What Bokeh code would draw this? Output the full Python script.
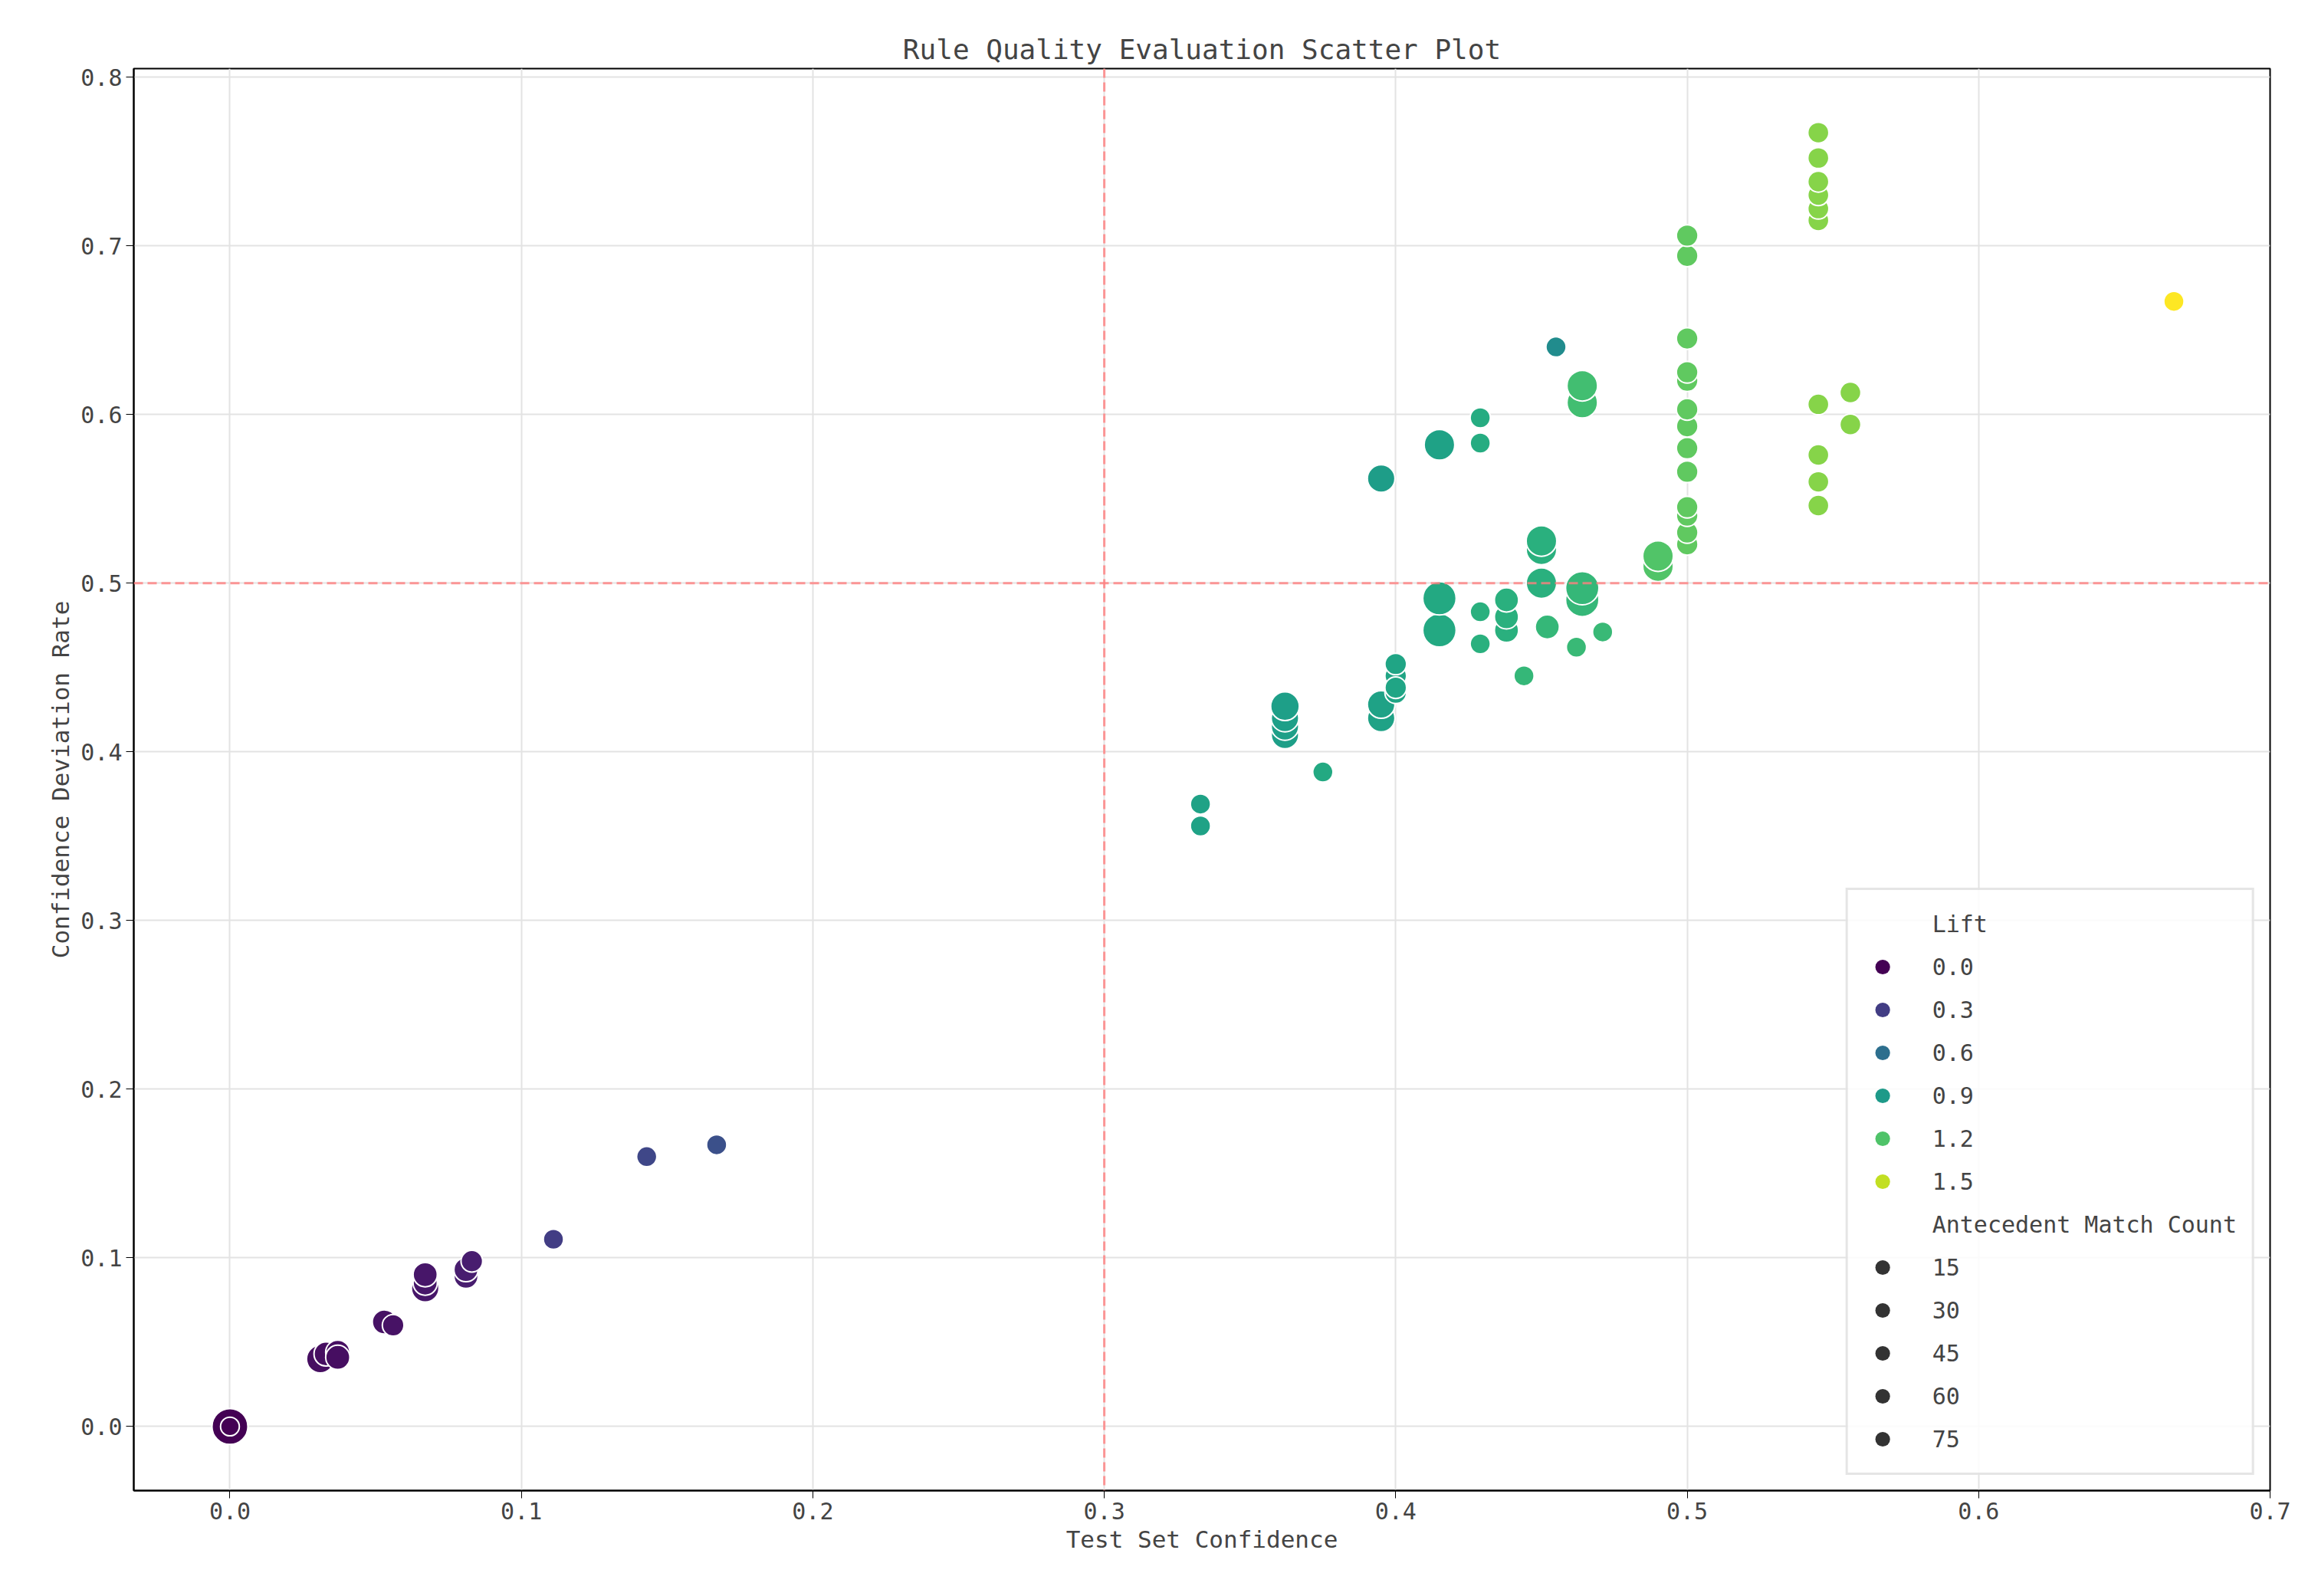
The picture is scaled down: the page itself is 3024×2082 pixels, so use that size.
import numpy as np
from bokeh.plotting import figure
from bokeh.models import ColumnDataSource, LinearColorMapper, Span, Legend, LegendItem, NumeralTickFormatter
from bokeh.palettes import Viridis256
from bokeh.embed import file_html
from bokeh.resources import INLINE

test_conf = [0,0,0.031,0.033,0.037,0.037,0.053,0.056,0.067,0.067,0.067,0.081,0.081,0.083,
             0.111,0.143,0.167,0.333,0.333,0.375,0.362,0.362,0.362,0.362,0.395,0.395,0.4,0.4,0.4,0.4,0.4,
             0.395,0.415,0.429,0.429,0.455,0.415,0.415,0.429,0.429,0.438,0.438,0.438,0.444,
             0.45,0.45,0.45,0.452,0.462,0.464,0.464,0.464,0.464,0.471,0.49,0.49,
             0.5,0.5,0.5,0.5,0.5,0.5,0.5,0.5,0.5,0.5,0.5,0.5,0.5,
             0.545,0.545,0.545,0.545,0.545,0.545,0.545,0.545,0.545,0.545,0.556,0.556,0.667]
dev_rate = [0,0,0.04,0.043,0.044,0.041,0.062,0.06,0.082,0.085,0.09,0.089,0.093,0.098,
            0.111,0.16,0.167,0.369,0.356,0.388,0.41,0.415,0.42,0.427,0.42,0.428,0.435,0.44,0.445,0.452,0.438,
            0.562,0.582,0.598,0.583,0.64,0.472,0.491,0.483,0.464,0.472,0.48,0.49,0.445,
            0.50,0.52,0.525,0.474,0.462,0.49,0.497,0.607,0.617,0.471,0.51,0.516,
            0.523,0.53,0.54,0.545,0.566,0.58,0.593,0.603,0.62,0.625,0.645,0.694,0.706,
            0.546,0.56,0.576,0.606,0.715,0.722,0.73,0.738,0.752,0.767,0.594,0.613,0.667]
lift = [0,0,0.06,0.06,0.06,0.06,0.08,0.08,0.1,0.1,0.1,0.13,0.13,0.13,
        0.3,0.35,0.4,0.95,0.95,1.0,0.93,0.93,0.93,0.93,0.95,0.95,0.97,0.97,0.97,0.97,0.97,
        0.92,0.95,1.02,1.02,0.8,1.0,1.0,1.05,1.05,1.05,1.05,1.05,1.1,
        1.05,1.05,1.05,1.1,1.12,1.1,1.1,1.15,1.15,1.12,1.2,1.2,
        1.25,1.25,1.25,1.25,1.25,1.25,1.25,1.25,1.25,1.25,1.25,1.25,1.25,
        1.35,1.35,1.35,1.35,1.35,1.35,1.35,1.35,1.35,1.35,1.35,1.35,1.65]
count = [90,10,45,30,30,30,30,20,45,30,30,30,30,20,
         15,15,15,15,15,15,45,45,45,50,45,45,20,20,20,20,20,
         45,60,15,15,15,75,75,15,15,30,30,30,15,
         60,60,60,30,15,75,75,60,60,15,60,60,
         20,20,20,20,20,20,20,20,20,20,20,20,20,
         18,18,18,18,18,18,18,18,18,18,18,18,15]
legend_lift = [0.0, 0.3, 0.6, 0.9, 1.2, 1.5]
legend_count = [15, 30, 45, 60, 75]

def diam(c):
    return np.sqrt(400 + 20 * np.asarray(c, dtype=float))

FONT = "DejaVu Sans Mono"
src = ColumnDataSource(dict(x=test_conf, y=dev_rate, lift=lift, s=diam(count)))
mapper = LinearColorMapper(palette=Viridis256, low=0, high=1.65)

p = figure(width=3008, height=2066, output_backend="svg", toolbar_location=None,
           x_range=(-0.033, 0.7), y_range=(-0.038, 0.805),
           title="Rule Quality Evaluation Scatter Plot",
           min_border_left=174, min_border_right=47, min_border_top=89, min_border_bottom=122)
p.title.align = "center"
p.title.text_font = FONT
p.title.text_font_size = "36px"
p.title.text_font_style = "normal"
for ax in (p.xaxis, p.yaxis):
    ax.major_label_text_font = FONT
    ax.major_label_text_font_size = "30px"
    ax.axis_label_text_font = FONT
    ax.axis_label_text_font_size = "31px"
    ax.axis_label_text_font_style = "normal"
    ax.minor_tick_line_color = None
    ax.major_tick_out = 10
    ax.major_tick_in = 0
    ax.axis_line_width = 2
    ax.formatter = NumeralTickFormatter(format="0.0")
p.xaxis.axis_label = "Test Set Confidence"
p.yaxis.axis_label = "Confidence Deviation Rate"
p.xaxis.ticker = [0, 0.1, 0.2, 0.3, 0.4, 0.5, 0.6, 0.7]
p.yaxis.ticker = [0, 0.1, 0.2, 0.3, 0.4, 0.5, 0.6, 0.7, 0.8]
p.outline_line_color = "black"
p.outline_line_width = 2
p.outline_line_alpha = 1
p.grid.grid_line_color = "#e3e3e3"
p.grid.grid_line_width = 2

p.add_layout(Span(location=0.3, dimension="height", line_color="#ff8080", line_alpha=0.8, line_width=3, line_dash="12 6"))
p.add_layout(Span(location=0.5, dimension="width", line_color="#ff8080", line_alpha=0.8, line_width=3, line_dash="12 6"))

p.scatter("x", "y", source=src, size="s", fill_color={"field": "lift", "transform": mapper},
          line_color="white", line_width=2)

items = []
hdr = p.scatter([np.nan], [np.nan], size=1, fill_alpha=0, line_alpha=0)
items.append(LegendItem(label="Lift", renderers=[hdr]))
for v in legend_lift:
    idx = int(round(v / 1.65 * 255))
    r = p.scatter([np.nan], [np.nan], size=20, fill_color=Viridis256[min(idx, 255)], line_color=None)
    items.append(LegendItem(label=f"{v:.1f}", renderers=[r]))
hdr2 = p.scatter([np.nan], [np.nan], size=1, fill_alpha=0, line_alpha=0)
items.append(LegendItem(label="Antecedent Match Count", renderers=[hdr2]))
for c in legend_count:
    r = p.scatter([np.nan], [np.nan], size=float(diam(c)), fill_color="#333333", line_color=None)
    items.append(LegendItem(label=str(c), renderers=[r]))

leg = Legend(items=items, location="bottom_right", label_text_font=FONT, label_text_font_size="30px",
             glyph_width=50, glyph_height=48, spacing=8, label_standoff=40,
             border_line_color="#cccccc", border_line_width=3, background_fill_alpha=0.85,
             margin=20, padding=20)
p.add_layout(leg)

open("out.html", "w").write(file_html(p, INLINE))
